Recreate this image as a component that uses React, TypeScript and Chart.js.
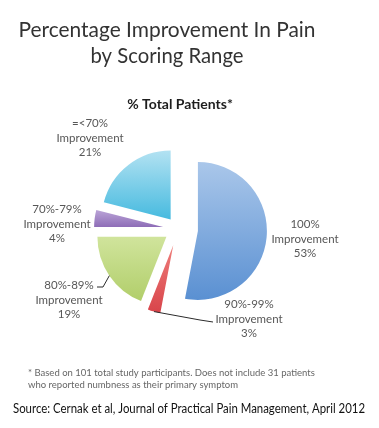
import React, { useEffect, useRef } from 'react';
import { Chart, registerables } from 'chart.js';

Chart.register(...registerables);

// ---- data ----
const categories = ['100%', '90%-99%', '80%-89%', '70%-79%', '=<70%'];
const percentValues = [53, 3, 19, 4, 21];
const labelWord = 'Improvement';

const titleLines = ['Percentage Improvement In Pain', 'by Scoring Range'];
const subtitleText = '% Total Patients*';
const footnoteLines = [
  '* Based on 101 total study participants. Does not include 31 patients',
  'who reported numbness as their primary symptom',
];
const sourceText = 'Source: Cernak et al, Journal of Practical Pain Management, April 2012';

// ---- styles / layout ----
const FONT = 'Lato, "Open Sans", sans-serif';
const TOP_COLORS = ['#aac7ea', '#ee7d7a', '#d0e49c', '#baa4d7', '#b3e2f2'];
const BOTTOM_COLORS = ['#5a90d2', '#d8444a', '#b1ce6a', '#8e6db7', '#46badf'];
const EXPLODE = [20, 17, 14, 15, 12];
const PIE_RADIUS = 69;
// centre of the middle line of each label block
const LABEL_POS: number[][] = [[305, 239], [249, 319], [69, 300], [57, 224], [90, 138]];
const LABEL_LINE_GAP = 14.5;
// leader lines: bend points and end point (near label)
const LEADERS: (number[][] | null)[] = [null, [[200, 320], [213, 322]], [[103, 287], [97, 287]], null, null];

function sliceAngles(i: number) {
  const total = percentValues.reduce((a, b) => a + b, 0);
  let before = 0;
  for (let k = 0; k < i; k++) before += percentValues[k];
  const start = -Math.PI / 2 + (before / total) * Math.PI * 2;
  const end = start + (percentValues[i] / total) * Math.PI * 2;
  return { start, end };
}

function sliceGradient(c: any) {
  const chart = c.chart;
  const ca = chart.chartArea;
  const i = c.dataIndex;
  if (!ca || i === undefined) return BOTTOM_COLORS[i || 0];
  const cx = (ca.left + ca.right) / 2;
  const cy = (ca.top + ca.bottom) / 2;
  const { start, end } = sliceAngles(i);
  let minY = cy;
  let maxY = cy;
  for (let k = 0; k <= 60; k++) {
    const a = start + ((end - start) * k) / 60;
    const y = cy + Math.sin(a) * PIE_RADIUS;
    minY = Math.min(minY, y);
    maxY = Math.max(maxY, y);
  }
  const g = chart.ctx.createLinearGradient(cx, minY, cx, maxY + 0.01);
  g.addColorStop(0, TOP_COLORS[i]);
  g.addColorStop(1, BOTTOM_COLORS[i]);
  return g;
}

const explodePlugin = {
  id: 'explodeSlices',
  beforeDatasetDraw(chart: any, args: any) {
    const ctx = chart.ctx;
    const meta = args.meta;
    meta.data.forEach((arc: any, i: number) => {
      const mid = (arc.startAngle + arc.endAngle) / 2;
      const d = EXPLODE[i] || 0;
      ctx.save();
      ctx.translate(Math.cos(mid) * d, Math.sin(mid) * d);
      arc.draw(ctx);
      ctx.restore();
    });
    return false;
  },
};

const labelPlugin = {
  id: 'sliceLabels',
  afterDatasetsDraw(chart: any) {
    const ctx = chart.ctx;
    const meta = chart.getDatasetMeta(0);
    ctx.save();
    // leader lines
    ctx.strokeStyle = '#2b2b2b';
    ctx.lineWidth = 1;
    meta.data.forEach((arc: any, i: number) => {
      const pts = LEADERS[i];
      if (!pts) return;
      const mid = (arc.startAngle + arc.endAngle) / 2;
      const d = EXPLODE[i] || 0;
      const sx = arc.x + Math.cos(mid) * (d + arc.outerRadius);
      const sy = arc.y + Math.sin(mid) * (d + arc.outerRadius);
      ctx.beginPath();
      ctx.moveTo(sx, sy);
      pts.forEach((p) => ctx.lineTo(p[0], p[1]));
      ctx.stroke();
    });
    // label text
    ctx.fillStyle = '#575757';
    ctx.font = `11.5px ${FONT}`;
    ctx.textAlign = 'center';
    ctx.textBaseline = 'middle';
    categories.forEach((cat, i) => {
      const [x, y] = LABEL_POS[i];
      ctx.fillText(cat, x, y - LABEL_LINE_GAP, 68);
      ctx.fillText(labelWord, x, y, 68);
      ctx.fillText(`${percentValues[i]}%`, x, y + LABEL_LINE_GAP, 68);
    });
    ctx.restore();
  },
};

const textPlugin = {
  id: 'pageTexts',
  afterDraw(chart: any) {
    const ctx = chart.ctx;
    ctx.save();
    ctx.textBaseline = 'alphabetic';
    ctx.textAlign = 'center';
    ctx.fillStyle = '#333333';
    ctx.font = `21px ${FONT}`;
    ctx.fillText(titleLines[0], 167, 37, 297);
    ctx.fillText(titleLines[1], 167, 63, 153);

    ctx.fillStyle = '#1e1e1e';
    ctx.font = `bold 14px ${FONT}`;
    ctx.fillText(subtitleText, 180, 109, 124);

    ctx.textAlign = 'left';
    ctx.fillStyle = '#666666';
    ctx.font = `9.5px ${FONT}`;
    ctx.textBaseline = 'middle';
    ctx.fillText(footnoteLines[0], 28, 373, 310);
    ctx.fillText(footnoteLines[1], 28, 385, 310);

    ctx.fillStyle = '#111111';
    ctx.font = `13.5px ${FONT}`;
    ctx.textBaseline = 'alphabetic';
    ctx.fillText(sourceText, 13, 413, 352);
    ctx.restore();
  },
};

export default function App() {
  const canvasRef = useRef<HTMLCanvasElement | null>(null);

  useEffect(() => {
    const canvas = canvasRef.current;
    if (!canvas) return;
    const chart = new Chart(canvas, {
      type: 'pie',
      data: {
        labels: categories,
        datasets: [
          {
            data: percentValues,
            backgroundColor: sliceGradient as any,
            borderWidth: 0,
            hoverOffset: 0,
          },
        ],
      },
      options: {
        responsive: false,
        animation: false,
        radius: PIE_RADIUS,
        layout: { padding: { left: 0, right: 23, top: 30, bottom: 0 } },
        plugins: {
          legend: { display: false },
          tooltip: { enabled: false },
          title: { display: false },
        },
        events: [],
      } as any,
      plugins: [explodePlugin, labelPlugin, textPlugin],
    });
    return () => chart.destroy();
  }, []);

  return (
    <div style={{ position: 'fixed', left: 0, top: 0, width: 379, height: 428, background: '#ffffff' }}>
      <canvas ref={canvasRef} width={379} height={428} style={{ display: 'block' }} />
    </div>
  );
}
